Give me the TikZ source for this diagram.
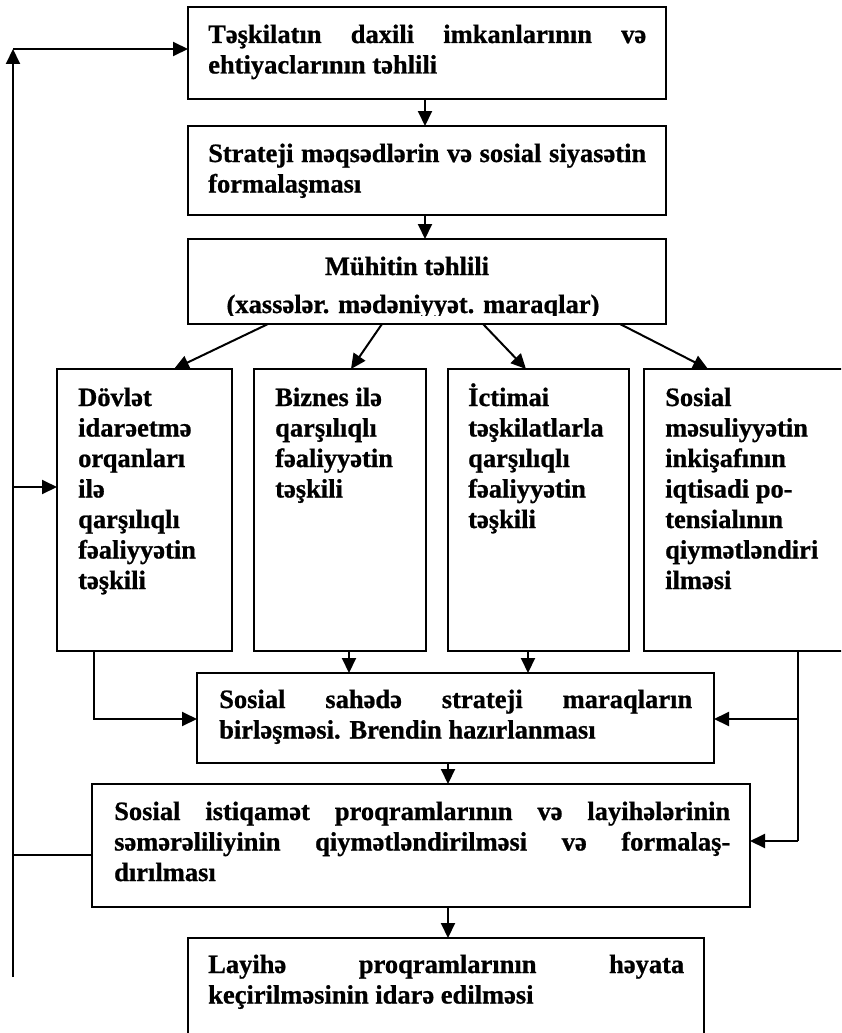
\documentclass[tikz,border=0pt]{standalone}
\usepackage{fontspec}
\setmainfont[FakeBold=0.8]{Liberation Serif}
\usetikzlibrary{arrows.meta,calc}
\begin{document}
\begin{tikzpicture}[x=1pt,y=-1pt,
  box/.style={draw,line width=2.2pt,anchor=north west,inner sep=0pt,outer sep=0pt},
  arr/.style={line width=2pt,-{Triangle[length=15pt,width=14pt]}},
  ln/.style={line width=2pt},
  txt/.style={anchor=base west,inner sep=0pt,font=\bfseries\fontsize{26.5}{30.5}\selectfont},
  ctxt/.style={anchor=base,inner sep=0pt,font=\bfseries\fontsize{26.5}{30.5}\selectfont}]
\clip (0,0) rectangle (841,1033);
\fill[white] (0,0) rectangle (841,1033);

% boxes
\node[box,minimum width=478pt,minimum height=92pt] (b1) at (188,7) {};
\node[box,minimum width=478pt,minimum height=89pt] (b2) at (188,126) {};
\node[box,minimum width=478pt,minimum height=85pt] (b3) at (188,239) {};
\node[box,minimum width=175pt,minimum height=282pt] (bA) at (57,369) {};
\node[box,minimum width=172pt,minimum height=282pt] (bB) at (254,369) {};
\node[box,minimum width=181pt,minimum height=282pt] (bC) at (448,369) {};
\node[box,minimum width=216pt,minimum height=282pt] (bD) at (644,369) {};
\node[box,minimum width=517pt,minimum height=90pt] (bM) at (197,673) {};
\node[box,minimum width=658pt,minimum height=123pt] (bE) at (92,784) {};
\node[box,minimum width=516pt,minimum height=110pt] (bF) at (188,938) {};

% texts
\node[txt] (t1) at (208,43) {\vtop{\hbox to 438pt{Təşkilatın daxili imkanlarının və}\hbox{ehtiyaclarının təhlili}}};
\node[txt] (t2) at (208,162) {\vtop{\hbox to 438pt{Strateji məqsədlərin və sosial siyasətin}\hbox{formalaşması}}};
\node[ctxt] (t3a) at (407,275) {Mühitin təhlili};
\begin{scope}
  \clip (190,241) rectangle (664,315);
  \node[ctxt] (t3b) at (413,313) {(xassələr. mədəniyyət. maraqlar)};
\end{scope}
\node[txt] (tA) at (78,406) {\vtop{\hbox{Dövlət}\hbox{idarəetmə}\hbox{orqanları}\hbox{ilə}\hbox{qarşılıqlı}\hbox{fəaliyyətin}\hbox{təşkili}}};
\node[txt] (tB) at (275,406) {\vtop{\hbox{Biznes ilə}\hbox{qarşılıqlı}\hbox{fəaliyyətin}\hbox{təşkili}}};
\node[txt] (tC) at (468,406) {\vtop{\hbox{İctimai}\hbox{təşkilatlarla}\hbox{qarşılıqlı}\hbox{fəaliyyətin}\hbox{təşkili}}};
\node[txt] (tD) at (665,406) {\vtop{\hbox{Sosial}\hbox{məsuliyyətin}\hbox{inkişafının}\hbox{iqtisadi po-}\hbox{tensialının}\hbox{qiymətləndiri}\hbox{ilməsi}}};
\node[txt] (tM) at (219,708) {\vtop{\hbox to 473pt{Sosial sahədə strateji maraqların}\hbox{birləşməsi. Brendin hazırlanması}}};
\node[txt] (tE) at (114,820) {\vtop{\hbox to 616pt{Sosial istiqamət proqramlarının və layihələrinin}\hbox to 616pt{səmərəliliyinin qiymətləndirilməsi və formalaş-}\hbox{dırılması}}};
\node[txt] (tF) at (208,973) {\vtop{\hbox to 476pt{Layihə proqramlarının həyata}\hbox{keçirilməsinin idarə edilməsi}}};

% main chain
\draw[arr] ($(b1.south west)+(237,0)$) -- ($(b2.north west)+(237,0)$);
\draw[arr] ($(b2.south west)+(237,0)$) -- ($(b3.north west)+(237,0)$);

% fan-out to the four directions
\draw[arr] ($(b3.south west)+(80,0)$) -- ($(bA.north west)+(117,0)$);
\draw[arr] ($(b3.south west)+(194,0)$) -- ($(bB.north west)+(97,0)$);
\draw[arr] ($(b3.south west)+(295,0)$) -- ($(bC.north west)+(78,0)$);
\draw[arr] ($(b3.south west)+(432,0)$) -- ($(bD.north west)+(64,0)$);

% merging into the joint box
\path ($(bA.south west)+(37,0)$) coordinate (aout)
      ($(bB.south west)+(95,0)$) coordinate (bout)
      ($(bC.south west)+(80,0)$) coordinate (cout)
      ($(bD.south west)+(154,0)$) coordinate (dout)
      ($(bM.north west)+(0,46)$) coordinate (min)
      ($(bM.north east)+(0,46)$) coordinate (mright)
      ($(bE.north east)+(0,57)$) coordinate (eright);
\draw[arr] (aout) |- (min);
\draw[arr] (bout) -- (bout |- bM.north);
\draw[arr] (cout) -- (cout |- bM.north);
\draw[ln] (dout) -- (dout |- eright);
\draw[arr] (dout |- mright) -- (mright);
\draw[arr] (dout |- eright) -- (eright);

% lower chain
\draw[arr] ($(bM.south west)+(251,0)$) -- ($(bE.north west)+(356,0)$);
\draw[arr] ($(bE.south west)+(356,0)$) -- ($(bF.north west)+(260,0)$);

% feedback loop on the left
\path (13,977) coordinate (fbot)
      ($(bE.north west)+(0,71)$) coordinate (eleft)
      ($(b1.north west)+(0,42)$) coordinate (b1in)
      ($(bA.north west)+(0,118)$) coordinate (ain);
\draw[ln] (eleft) -- (fbot |- eleft);
\draw[arr] (fbot) -- (fbot |- b1in);
\draw[arr] (fbot |- b1in) -- (b1in);
\draw[arr] (fbot |- ain) -- (ain);
\end{tikzpicture}
\end{document}
